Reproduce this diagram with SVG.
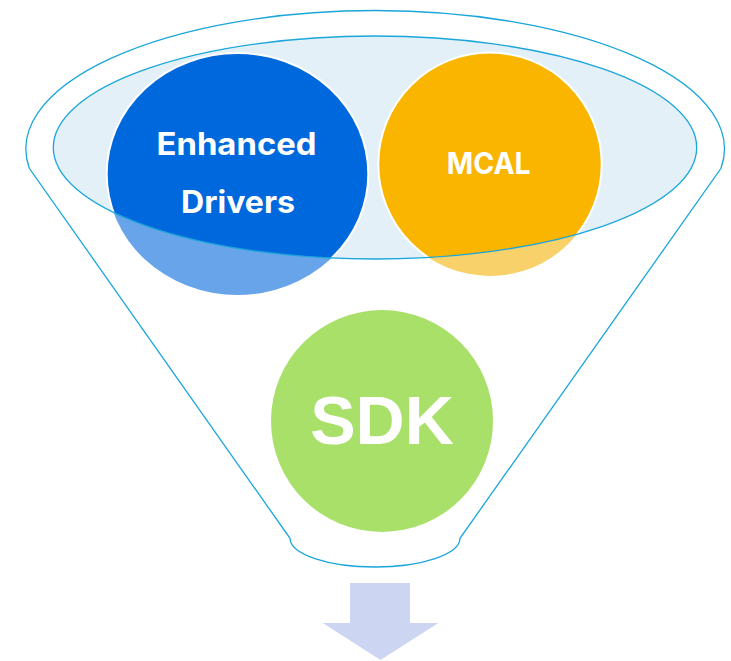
<svg xmlns="http://www.w3.org/2000/svg" width="731" height="661" viewBox="0 0 731 661">
  <style>
    .line { fill: none; stroke: #1AA6DB; stroke-width: 1.3; }
    .lbl { font-family: "Inter", "Open Sans", "Liberation Sans", sans-serif; font-weight: 700; fill: #FFFFFF; text-anchor: middle; }
    .big { font-family: "Liberation Sans", Arial, sans-serif; font-weight: 700; fill: #FFFFFF; text-anchor: middle; }
  </style>
  <defs>
    <clipPath id="rim">
      <ellipse cx="375" cy="147.5" rx="321.7" ry="111.5"/>
    </clipPath>
  </defs>
  <rect width="731" height="661" fill="#FFFFFF"/>
  <g id="funnel">
    <path class="line" fill="#FFFFFF" d="M29.3,168.3 A349.3,138.4 0 1 1 721,168.3 L460,538.3 A85,28.7 0 0 1 290,538.3 Z"/>
    <ellipse cx="375" cy="147.5" rx="321.7" ry="111.5" fill="#E3F0F8"/>
  </g>
  <g id="node-enhanced-drivers">
    <ellipse cx="237.5" cy="174" rx="130.8" ry="121" fill="#67A4EA"/>
    <g clip-path="url(#rim)">
      <ellipse cx="237.5" cy="174" rx="130.8" ry="121" fill="#0068DD" stroke="#FFFFFF" stroke-width="2"/>
    </g>
  </g>
  <g id="node-mcal">
    <circle cx="490" cy="164.3" r="111.7" fill="#F9D16A"/>
    <g clip-path="url(#rim)">
      <circle cx="490" cy="164.3" r="111.7" fill="#F9B500" stroke="#FFFFFF" stroke-width="2"/>
    </g>
  </g>
  <g id="rim-outline">
    <ellipse class="line" cx="375" cy="147.5" rx="321.7" ry="111.5"/>
  </g>
  <g id="labels">
    <text class="lbl" x="236.5" y="155" font-size="31" textLength="160" lengthAdjust="spacingAndGlyphs">Enhanced</text>
    <text class="lbl" x="238" y="213.3" font-size="31" textLength="114" lengthAdjust="spacingAndGlyphs">Drivers</text>
    <text class="lbl" x="488.7" y="174.3" font-size="30" textLength="84" lengthAdjust="spacingAndGlyphs">MCAL</text>
  </g>
  <g id="node-sdk">
    <circle cx="382" cy="421" r="111" fill="#A8E06A"/>
    <text class="big" x="382" y="444.3" font-size="68">SDK</text>
  </g>
  <g id="connectors">
    <polygon points="350,583 410,583 410,623 438.3,623 380.5,660 322.7,623 350,623" fill="#CCD6F2"/>
  </g>
</svg>
